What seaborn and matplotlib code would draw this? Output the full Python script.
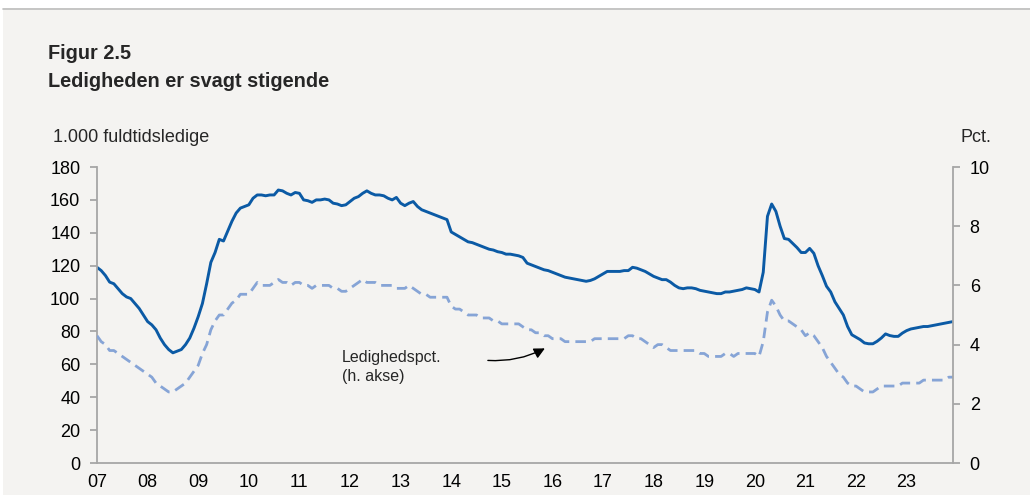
import numpy as np
import pandas as pd
import seaborn as sns
import matplotlib.pyplot as plt
from matplotlib.patches import Rectangle
from matplotlib.lines import Line2D

# monthly, jan 2007 - dec 2023
years = list(range(2007, 2024))
gross_ledige = [
    119, 117, 114, 110, 109, 106, 103, 101, 100, 97, 94, 90,                          # 07
    86, 84, 81, 76, 72, 69, 67, 68, 69, 72, 76, 82,                                   # 08
    89, 97, 109, 122, 128, 136, 135, 141, 147, 152, 155, 156,                         # 09
    157, 161, 163, 163, 162.5, 163, 163, 166, 165.5, 164, 163, 164.5,                 # 10
    164, 160, 159.5, 158.5, 160, 160, 160.5, 160, 158, 157.5, 156.5, 157,             # 11
    159, 161, 162, 164, 165.5, 164, 163, 163, 162.5, 161, 160, 161.5,                 # 12
    158, 156.5, 158, 159, 156, 154, 153, 152, 151, 150, 149, 148,                     # 13
    140.5, 139, 137.5, 136, 134.5, 134, 133, 132, 131, 130, 129.5, 128.5,             # 14
    128, 127, 127, 126.5, 126, 125, 121.5, 120.5, 119.5, 118.5, 117.5, 117,           # 15
    116, 115, 114, 113, 112.5, 112, 111.5, 111, 110.5, 111, 112, 113.5,               # 16
    115, 116.5, 116.5, 116.5, 116.5, 117, 117, 119, 118.5, 117.5, 116.5, 115,         # 17
    113.5, 112.5, 111.5, 111.5, 110, 108, 106.5, 106, 106.5, 106.5, 106, 105,         # 18
    104.5, 104, 103.5, 103, 103, 104, 104, 104.5, 105, 105.5, 106.5, 106,             # 19
    105.5, 104, 116, 150, 157.5, 153, 144, 136.5, 136, 133.5, 131, 128,               # 20
    128, 130.5, 127.5, 120, 114, 107.5, 104, 98, 94, 90, 83, 78,                      # 21
    76.5, 75, 73, 72.5, 72.5, 74, 76, 78.5, 77.5, 77, 77, 79,                         # 22
    80.5, 81.5, 82, 82.5, 83, 83, 83.5, 84, 84.5, 85, 85.5, 86,                       # 23
]
ledighedspct = [
    4.3, 4.1, 4.0, 3.8, 3.8, 3.7, 3.6, 3.5, 3.4, 3.3, 3.2, 3.1,
    3.0, 2.9, 2.7, 2.6, 2.5, 2.4, 2.4, 2.5, 2.6, 2.7, 2.9, 3.1,
    3.3, 3.7, 4.0, 4.5, 4.8, 5.0, 5.0, 5.2, 5.4, 5.5, 5.7, 5.7,
    5.7, 5.9, 6.1, 6.0, 6.0, 6.0, 6.1, 6.2, 6.1, 6.1, 6.0, 6.1,
    6.1, 6.0, 6.0, 5.9, 6.0, 6.0, 6.0, 6.0, 5.9, 5.9, 5.8, 5.8,
    5.9, 6.0, 6.1, 6.2, 6.1, 6.1, 6.1, 6.0, 6.0, 6.0, 6.0, 5.9,
    5.9, 5.9, 6.0, 5.9, 5.8, 5.7, 5.7, 5.6, 5.6, 5.6, 5.6, 5.6,
    5.3, 5.2, 5.2, 5.1, 5.0, 5.0, 5.0, 4.9, 4.9, 4.9, 4.8, 4.8,
    4.7, 4.7, 4.7, 4.7, 4.7, 4.6, 4.5, 4.5, 4.4, 4.4, 4.3, 4.3,
    4.2, 4.2, 4.2, 4.1, 4.1, 4.1, 4.1, 4.1, 4.1, 4.1, 4.2, 4.2,
    4.2, 4.2, 4.2, 4.2, 4.2, 4.2, 4.3, 4.3, 4.2, 4.2, 4.1, 4.0,
    3.9, 4.0, 4.0, 3.9, 3.8, 3.8, 3.8, 3.8, 3.8, 3.8, 3.8, 3.7,
    3.7, 3.6, 3.6, 3.6, 3.6, 3.7, 3.7, 3.6, 3.7, 3.7, 3.7, 3.7,
    3.7, 3.6, 4.1, 5.1, 5.5, 5.3, 5.0, 4.8, 4.8, 4.7, 4.6, 4.5,
    4.3, 4.4, 4.3, 4.1, 3.9, 3.6, 3.4, 3.2, 3.0, 2.9, 2.7, 2.6,
    2.6, 2.5, 2.4, 2.4, 2.4, 2.5, 2.6, 2.6, 2.6, 2.6, 2.6, 2.7,
    2.7, 2.7, 2.7, 2.7, 2.8, 2.8, 2.8, 2.8, 2.8, 2.8, 2.9, 2.9,
]
year_labels = [f"{y % 100:02d}" for y in years]

df = pd.DataFrame({
    'tid': [y + m / 12 for y in years for m in range(12)],
    'ledige': gross_ledige,
    'pct': ledighedspct,
})

bg = '#f4f3f1'
grey = '#a6a6a6'
dark_blue = '#0b5aa5'
light_blue = '#86a4d6'

sns.set_style('white')
plt.rcParams['font.family'] = ['Liberation Sans', 'DejaVu Sans']
plt.rcParams['font.size'] = 13

fig = plt.figure(figsize=(10.30, 4.95), dpi=100, facecolor=bg)
fig.add_artist(Rectangle((0, 1 - 8 / 495), 1, 8 / 495, transform=fig.transFigure,
                         facecolor='white', edgecolor='none'))
fig.add_artist(Rectangle((0, 0), 3 / 1030, 1, transform=fig.transFigure,
                         facecolor='white', edgecolor='none'))
fig.add_artist(Line2D([3 / 1030, 1], [1 - 8.5 / 495] * 2, transform=fig.transFigure,
                      color='#bdbdbd', lw=1.2))

ax = fig.add_axes([97 / 1030, 1 - 463 / 495, (953 - 97) / 1030, (463 - 167) / 495])
ax.set_facecolor(bg)
ax2 = ax.twinx()

sns.lineplot(data=df, x='tid', y='ledige', ax=ax, color=dark_blue, lw=2.1)
sns.lineplot(data=df, x='tid', y='pct', ax=ax2, color=light_blue, lw=2.0,
             dashes=False, linestyle=(0, (3.8, 2.2)))

ax.set_xlim(years[0], years[-1] + 11 / 12)
ax.set_ylim(0, 180)
ax.set_yticks(np.arange(0, 181, 20))
ax2.set_ylim(0, 10)
ax2.set_yticks(np.arange(0, 11, 2))
ax.set_xticks(years)
ax.set_xticklabels(year_labels)
ax.set_xlabel('')
ax.set_ylabel('')
ax2.set_ylabel('')

for a in (ax, ax2):
    for s in a.spines.values():
        s.set_visible(False)
    a.tick_params(colors=grey, labelcolor='black', length=5, width=1.3, labelsize=13)
ax.spines['left'].set_visible(True)
ax.spines['bottom'].set_visible(True)
ax2.spines['right'].set_visible(True)
for s in (ax.spines['left'], ax.spines['bottom'], ax2.spines['right']):
    s.set_color(grey)
    s.set_linewidth(1.3)
ax.tick_params(axis='y', pad=7)
ax2.tick_params(axis='y', pad=7)
ax.tick_params(axis='x', pad=3)

fig.text(48 / 1030, 1 - 59 / 495, 'Figur 2.5', fontsize=14.3, fontweight='bold', va='baseline')
fig.text(48 / 1030, 1 - 87 / 495, 'Ledigheden er svagt stigende', fontsize=14.3,
         fontweight='bold', va='baseline')
fig.text(53 / 1030, 1 - 142 / 495, '1.000 fuldtidsledige', fontsize=13, va='baseline')
fig.text(991 / 1030, 1 - 142 / 495, 'Pct.', fontsize=13, va='baseline', ha='right')

ax.text(2011.84, 69, 'Ledighedspct.\n(h. akse)', fontsize=11.5, va='top', ha='left',
        linespacing=1.35)
ax.annotate('', xy=(2015.9, 70.5), xytext=(2014.67, 62.5),
            arrowprops=dict(arrowstyle='-|>', color='black', lw=1.0,
                            mutation_scale=16, connectionstyle='arc3,rad=0.15'))

fig.savefig('out.png', dpi=100, facecolor=bg)
